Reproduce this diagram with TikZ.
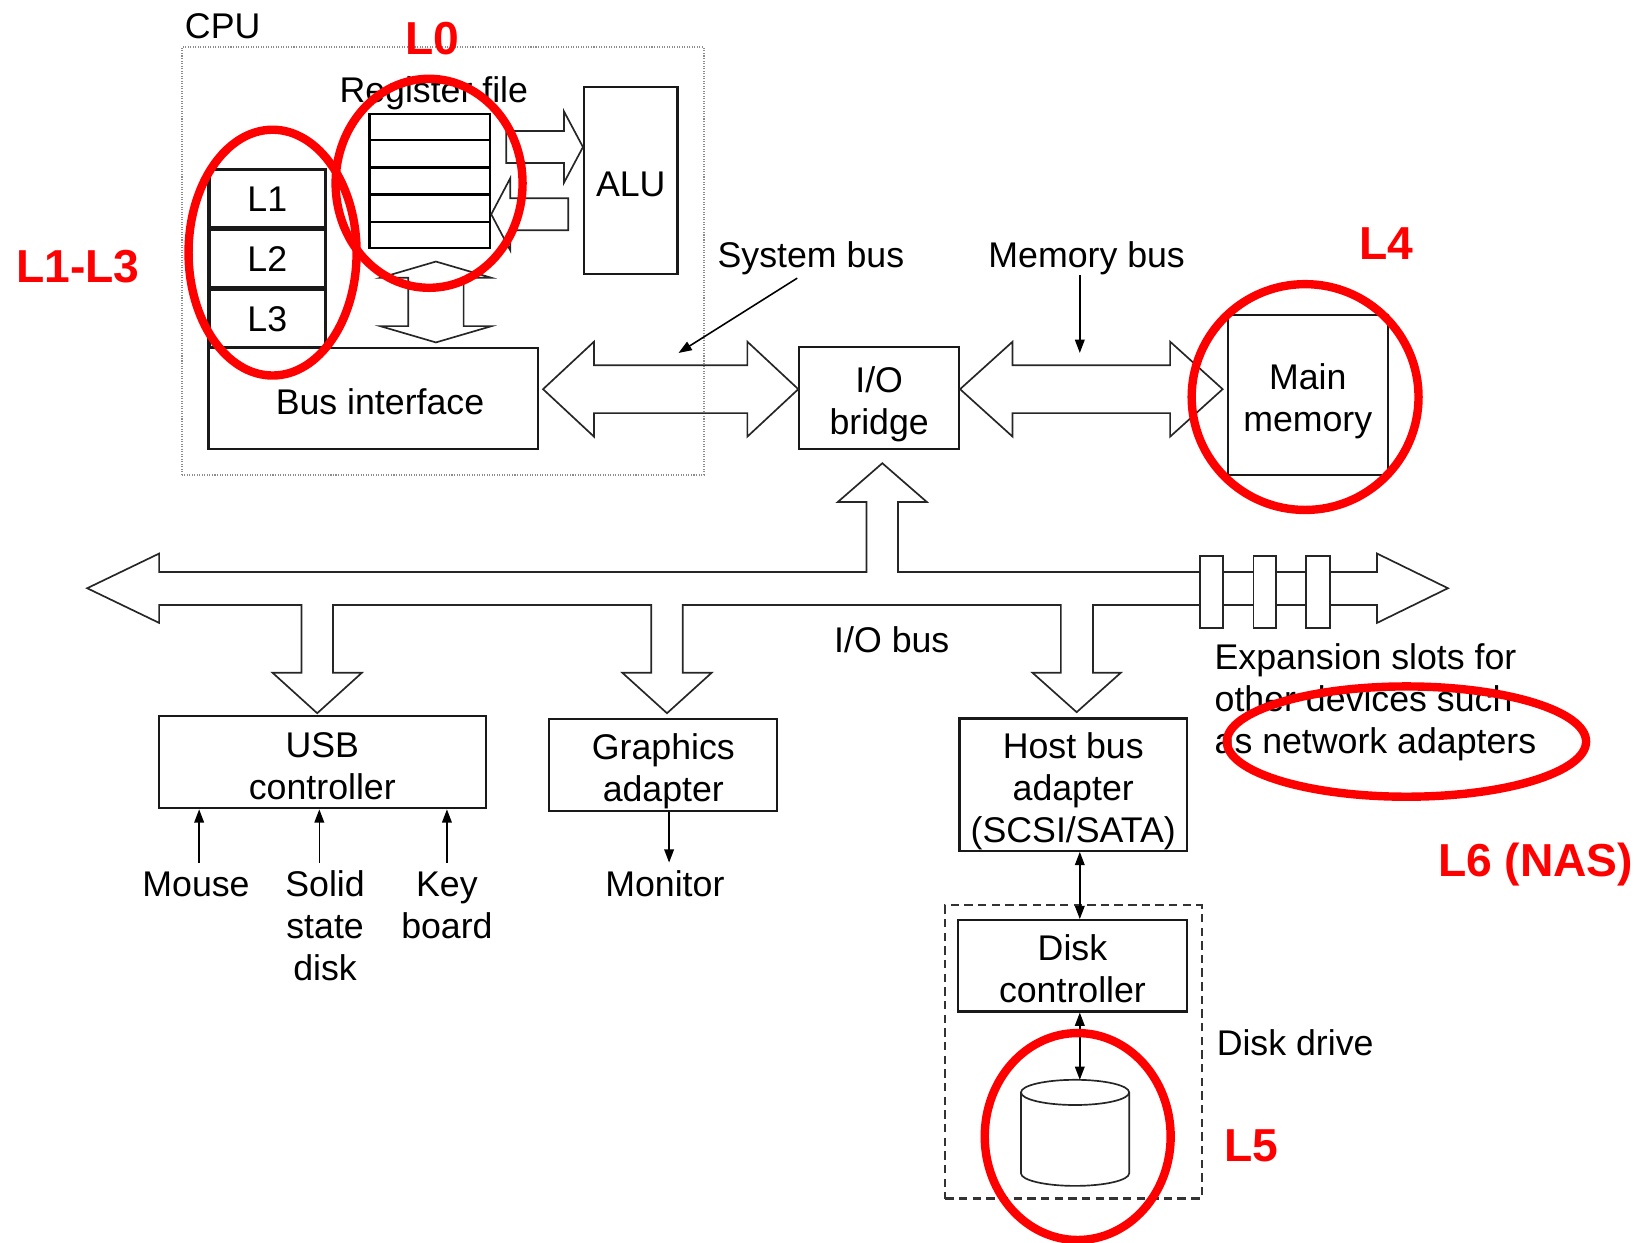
\documentclass[tikz,border=0pt]{standalone}
\usepackage{fontspec}
\setmainfont{Liberation Sans}
\usetikzlibrary{calc,arrows.meta}
\newcommand\stA{\rule{0pt}{15.8pt}}
\newcommand\stB{\rule{0pt}{18.8pt}}
\newcommand\stD{\rule[-3.6pt]{0pt}{3.6pt}}
\tikzset{
  bhl/.store in=\bhl, bhh/.store in=\bhh, bsh/.store in=\bsh,
  bhl=10pt, bhh=10pt, bsh=5pt,
  blockHD/.style={to path={let \p1=(\tikztostart), \p2=(\tikztotarget) in
    (\x1,\y1) -- (\x1+\bhl,\y1+\bhh) -- (\x1+\bhl,\y1+\bsh) -- (\x2-\bhl,\y1+\bsh)
    -- (\x2-\bhl,\y1+\bhh) -- (\x2,\y1) -- (\x2-\bhl,\y1-\bhh) -- (\x2-\bhl,\y1-\bsh)
    -- (\x1+\bhl,\y1-\bsh) -- (\x1+\bhl,\y1-\bhh) -- cycle}},
  blockVD/.style={to path={let \p1=(\tikztostart), \p2=(\tikztotarget) in
    (\x1,\y1) -- (\x1+\bhh,\y1-\bhl) -- (\x1+\bsh,\y1-\bhl) -- (\x1+\bsh,\y2+\bhl)
    -- (\x1+\bhh,\y2+\bhl) -- (\x1,\y2) -- (\x1-\bhh,\y2+\bhl) -- (\x1-\bsh,\y2+\bhl)
    -- (\x1-\bsh,\y1-\bhl) -- (\x1-\bhh,\y1-\bhl) -- cycle}},
  blockR/.style={to path={let \p1=(\tikztostart), \p2=(\tikztotarget) in
    (\x1,\y1+\bsh) -- (\x2-\bhl,\y1+\bsh) -- (\x2-\bhl,\y1+\bhh) -- (\x2,\y1)
    -- (\x2-\bhl,\y1-\bhh) -- (\x2-\bhl,\y1-\bsh) -- (\x1,\y1-\bsh) -- cycle}},
  blockL/.style={to path={let \p1=(\tikztostart), \p2=(\tikztotarget) in
    (\x1,\y1+\bsh) -- (\x2+\bhl,\y1+\bsh) -- (\x2+\bhl,\y1+\bhh) -- (\x2,\y1)
    -- (\x2+\bhl,\y1-\bhh) -- (\x2+\bhl,\y1-\bsh) -- (\x1,\y1-\bsh) -- cycle}},
  blk/.style={draw=black!85, line width=0.8pt, line join=miter},
  box/.style={draw=black!90, line width=1pt, inner sep=0pt,
    font=\fontsize{17pt}{20pt}\selectfont, align=center},
  txt/.style={inner sep=0pt, font=\fontsize{17pt}{20pt}\selectfont, align=center},
  redlbl/.style={inner sep=0pt, anchor=base, text=red,
    font=\fontsize{22pt}{26pt}\selectfont\bfseries},
  redring/.style={draw=red, line width=4pt},
  ptr/.style={draw=black, line width=0.75pt, -{Triangle[length=6.3pt,width=4.6pt]}},
  dptr/.style={draw=black, line width=0.75pt,
    {Triangle[length=6.3pt,width=4.6pt]}-{Triangle[length=6.3pt,width=4.6pt]}},
  cpubox/.style={draw=black!45, line width=1pt, dash pattern=on 0.5pt off 0.7pt, inner sep=0pt},
  drivebox/.style={draw=black!80, line width=1pt, dash pattern=on 4pt off 2.5pt, inner sep=0pt}
}
\begin{document}
\begin{tikzpicture}[x=0.5pt,y=-0.5pt]
\useasboundingbox (0,0) rectangle (1568,1183);

% CPU
\node[cpubox, minimum width=248.5pt, minimum height=203.5pt] (cpu) at (421.5,248.5) {};
\node[txt, anchor=base] (cpulbl) at (212,36.2) {CPU};

\node[box, line width=1.5pt, minimum width=55.5pt, minimum height=27.5pt] (l1) at (254.5,189) {\stA L1\stD};
\node[box, line width=1.5pt, minimum width=55.5pt, minimum height=27.5pt] (l2) at (254.5,246) {\stA L2\stD};
\node[box, line width=1.5pt, minimum width=55.5pt, minimum height=27.5pt] (l3) at (254.5,303.5) {\stA L3\stD};

\node[box, draw=black, line width=1.2pt, minimum width=57.25pt, minimum height=63.75pt] (regfile) at (409.25,172.25) {};
\foreach \i in {1,2,3,4}
  \draw[draw=black, line width=1.2pt] ($(regfile.north west)!\i/5!(regfile.south west)$) -- ($(regfile.north east)!\i/5!(regfile.south east)$);
\node[txt, anchor=base] (reglbl) at (413,98) {Register file};

\node[box, minimum width=44.5pt, minimum height=89pt] (alu) at (600.5,172) {\stB ALU\stD};
\node[box, minimum width=156.75pt, minimum height=48.25pt] (busif) at (355.25,379.25) {\stB\hspace*{6.5pt}Bus interface\stD};

\node[box, minimum width=76pt, minimum height=48.75pt] (iob) at (837,378.75) {\stB I/O\\bridge\stD};
\node[box, minimum width=76pt, minimum height=76pt] (mainmem) at (1245,376) {\stB Main\\memory\stD};

% register/ALU arrows
\coordinate (raT) at (482,140);
\coordinate (raH) at (alu.west |- raT);
\draw[blk, blockR, bhl=9pt, bhh=16.9pt, bsh=7.6pt] (raT) to (raH);
\coordinate (arT) at (541,204);
\coordinate (arH) at (regfile.east |- arT);
\draw[blk, blockL, bhl=9pt, bhh=17.1pt, bsh=7.6pt] (arT) to (arH);
\coordinate (rbT) at (415,249);
\coordinate (rbB) at (415,326);
\draw[blk, blockVD, bhl=7.75pt, bhh=26.5pt, bsh=13.2pt] (rbT) to (rbB);

% system bus and memory bus
\coordinate (sbL) at (517,370.5);
\coordinate (sbR) at (iob.west |- sbL);
\draw[blk, blockHD, bhl=24.25pt, bhh=22.6pt, bsh=11.4pt] (sbL) to (sbR);
\coordinate (mbL) at (iob.east |- sbL);
\coordinate (mbR) at (1164,370.5);
\draw[blk, blockHD, bhl=25pt, bhh=22.6pt, bsh=11.4pt] (mbL) to (mbR);

\node[txt] (sysbus) at (772,242) {\stA System bus\stD};
\node[txt] (membus) at (1034.5,242) {\stA Memory bus\stD};
\coordinate (sbptr) at (646,336);
\coordinate (mbptr) at (1028,336);
\draw[ptr] ($(sysbus.south)+(-13,3)$) -- (sbptr);
\draw[ptr] (membus.south -| mbptr) -- (mbptr);

% I/O bus
\draw[blk] (83,560) -- (151.5,527) -- (151.5,544.5) -- (825,544.5) -- (825,478)
  -- (797.5,478) -- (840,441) -- (882.5,478) -- (855,478) -- (855,544.5)
  -- (1311,544.5) -- (1311,527) -- (1378.5,560) -- (1311,593) -- (1311,576)
  -- (1040.5,576) -- (1040.5,640.5) -- (1067,640.5) -- (1025,678) -- (983,640.5)
  -- (1010,640.5) -- (1010,576) -- (650,576) -- (650,640.5) -- (677.5,640.5)
  -- (635,679) -- (592.5,640.5) -- (620,640.5) -- (620,576) -- (317,576)
  -- (317,640.5) -- (344.5,640.5) -- (302,679) -- (259.5,640.5) -- (287,640.5)
  -- (287,576) -- (151.5,576) -- (151.5,593) -- cycle;
\draw[blk, fill=white] (1142.6,529) rectangle (1164,598);
\draw[blk, fill=white] (1193.4,529) rectangle (1215,598);
\draw[blk, fill=white] (1243.5,529) rectangle (1266,598);
\node[txt] (iobus) at (849,609) {\stA I/O bus\stD};
\node[txt, anchor=west, align=left] (expan) at (1156,665.5)
  {\stA Expansion slots for\\other devices such\\as network adapters\stD};

% devices
\node[box, minimum width=155.85pt, minimum height=43.75pt] (usb) at (306.85,725.75) {\stB USB\\controller\stD};
\node[box, minimum width=108.5pt, minimum height=43.75pt] (gfx) at (631.5,728.25) {\stB Graphics\\adapter\stD};
\node[box, minimum width=108.25pt, minimum height=63pt] (hba) at (1021.75,747) {\stB Host bus\\adapter\\(SCSI/SATA)\stD};

\node[txt] (mouse) at (186.6,841) {\stA Mouse\stD};
\node[txt] (solid) at (309.5,881) {\stA Solid\\state\\disk\stD};
\node[txt] (key) at (425.5,861) {\stA Key\\board\stD};
\node[txt] (monitor) at (633,841) {\stA Monitor\stD};
\draw[ptr] ($(mouse.north)+(3,0)$) -- ($(mouse.north |- usb.south)+(3,0)$);
\draw[ptr] ($(solid.north)+(-5.5,0)$) -- ($(solid.north |- usb.south)+(-5.5,0)$);
\draw[ptr] (key.north) -- (key.north |- usb.south);
\draw[ptr] ($(monitor.north |- gfx.south)+(4,0)$) -- ($(monitor.north)+(4,0)$);

% disk drive
\node[drivebox, minimum width=122pt, minimum height=139.5pt] (drive) at (1022,1001.5) {};
\node[box, minimum width=109pt, minimum height=43.5pt] (dc) at (1021,919.5) {\stB Disk\\controller\stD};
\node[txt] (drivelbl) at (1233,993) {\stA Disk drive\stD};
\draw[blk, fill=white] (972,1040) -- (972,1117) arc[start angle=180, end angle=360, x radius=25.75pt, y radius=6pt] -- (1075,1040);
\draw[blk] (1023.5,1040) ellipse [x radius=25.75pt, y radius=6pt];
\coordinate (disktop) at (1028,1028);
\draw[dptr] ($(hba.south)+(6.25,0)$) -- ($(dc.north)+(7,0)$);
\draw[dptr] ($(dc.south)+(7,0)$) -- (disktop);

% red annotations
\draw[redring] (408.5,174.5) ellipse [x radius=44.5pt, y radius=49.75pt];
\draw[redring] (259.5,240.5) ellipse [x radius=40pt, y radius=58.5pt];
\draw[redring] (1242.5,378) ellipse [x radius=54pt, y radius=53.75pt];
\draw[redring] (1026,1082) ellipse [x radius=44.25pt, y radius=49.25pt];
\draw[redring] (1339,706) ellipse [x radius=85.5pt, y radius=26.25pt];
\node[redlbl] (lz) at (411.5,51.7) {L0};
\node[redlbl] (lot) at (74,268.7) {L1-L3};
\node[redlbl] (lf) at (1320,246.7) {L4};
\node[redlbl] (lv) at (1191.5,1105.7) {L5};
\node[redlbl] (ls) at (1462,834.7) {L6 (NAS)};
\end{tikzpicture}
\end{document}
